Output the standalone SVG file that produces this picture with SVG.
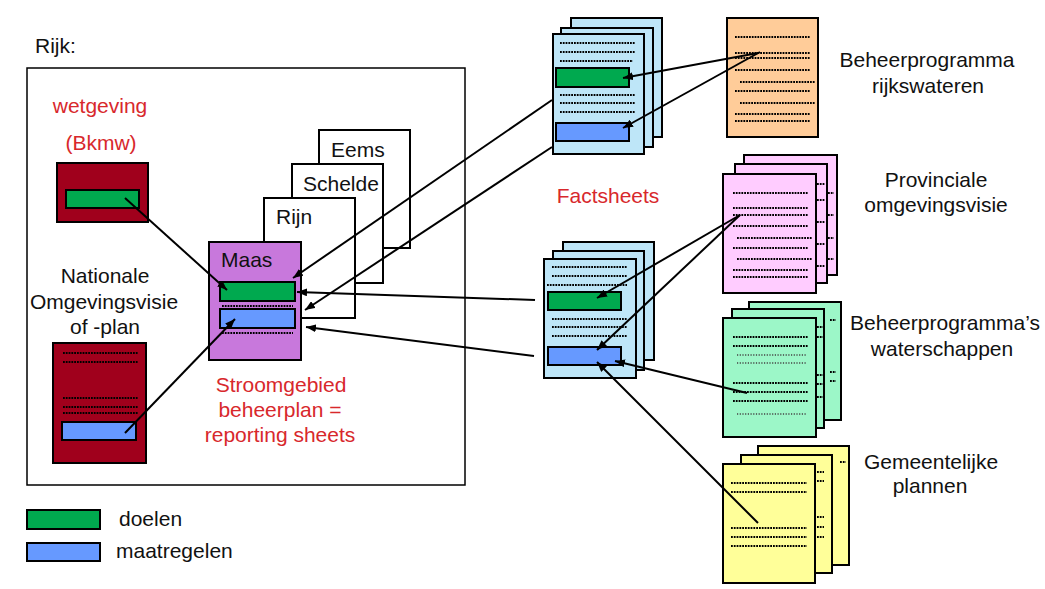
<svg xmlns="http://www.w3.org/2000/svg" width="1045" height="589" viewBox="0 0 1045 589">
<defs>
<style>
.t{font-family:"Liberation Sans",Arial,sans-serif;font-size:21px;fill:#111}
.r{fill:#D8282C}
.m{text-anchor:middle}
.pg{stroke:#000;stroke-width:2}
.dr{fill:#A0001C}
.gr{fill:#00A94F}
.bl{fill:#6699FF}
.pu{fill:#C878DC}
.lb{fill:#BEE6F8}
.or{fill:#FFCC99}
.pk{fill:#FFCCFF}
.mi{fill:#9CF7C8}
.ye{fill:#FFFF99}
.wh{fill:#fff}
.d{stroke:#000;stroke-width:2.2;stroke-dasharray:1.8 1;fill:none}
.dl{stroke:#444;stroke-width:1.4;stroke-dasharray:1.2 1.5;fill:none}
.c{stroke:#000;stroke-width:2;fill:none;marker-end:url(#ah)}
</style>
<marker id="ah" markerUnits="userSpaceOnUse" markerWidth="10" markerHeight="8" refX="10" refY="4" orient="auto">
<path d="M0,0 L10,4 L0,8 z" fill="#000"/>
</marker>
</defs>
<rect width="1045" height="589" fill="#fff"/>

<g id="rijk">
<text class="t" x="35" y="53">Rijk:</text>
<rect x="27" y="68" width="438" height="417" fill="none" stroke="#000" stroke-width="1.5"/>
</g>

<g id="wetgeving">
<text class="t r m" x="100" y="113">wetgeving</text>
<text class="t r m" x="101" y="150">(Bkmw)</text>
<rect class="pg dr" x="57" y="163" width="91" height="59"/>
<rect class="pg gr" x="66" y="190" width="73" height="18"/>
</g>

<g id="nationale">
<text class="t m" x="105" y="283">Nationale</text>
<text class="t m" x="104" y="309">Omgevingsvisie</text>
<text class="t m" x="105" y="334">of -plan</text>
<rect class="pg dr" x="53" y="343" width="93" height="120"/>
<path class="d" d="M63 353H138M63 362H138M63 398H138M63 407H138M63 413H138"/>
<rect class="pg bl" x="62" y="422" width="74" height="18"/>
</g>

<g id="eems">
<rect class="pg wh" x="319" y="130" width="91" height="118"/>
<text class="t" x="331" y="157">Eems</text>
</g>
<g id="schelde">
<rect class="pg wh" x="292" y="164" width="91" height="119"/>
<text class="t" x="303" y="191">Schelde</text>
</g>
<g id="rijn">
<rect class="pg wh" x="264" y="198" width="91" height="120"/>
<text class="t" x="276" y="224">Rijn</text>
</g>
<g id="maas">
<rect class="pg pu" x="209" y="242" width="92" height="118"/>
<text class="t" x="221" y="267">Maas</text>
<rect class="pg gr" x="220" y="282" width="75" height="19"/>
<path class="d" d="M222 306H293M222 333H293"/>
<rect class="pg bl" x="220" y="309" width="75" height="19"/>
</g>
<g id="stroomgebied">
<text class="t r m" x="281" y="392">Stroomgebied</text>
<text class="t r m" x="280" y="417">beheerplan =</text>
<text class="t r m" x="280" y="442">reporting sheets</text>
</g>

<g id="factsheets-top">
<rect class="pg lb" x="571" y="18" width="91" height="119"/>
<rect class="pg lb" x="561" y="28" width="92" height="119"/>
<rect class="pg lb" x="553" y="34" width="91" height="120"/>
<path class="d" d="M560 43H635M560 52H635M560 61H633M560 95H635M560 103H635M560 112H635"/>
<rect class="pg gr" x="556" y="68" width="73" height="19"/>
<rect class="pg bl" x="556" y="123" width="73" height="18"/>
</g>
<text class="t r m" x="608" y="203">Factsheets</text>
<g id="factsheets-bottom">
<rect class="pg lb" x="563" y="242" width="91" height="118"/>
<rect class="pg lb" x="553" y="251" width="91" height="119"/>
<rect class="pg lb" x="544" y="259" width="92" height="119"/>
<path class="d" d="M552 267H627M552 276H627M547 285H627M552 319H627M552 327H627M552 336H627"/>
<rect class="pg gr" x="548" y="292" width="73" height="18"/>
<rect class="pg bl" x="548" y="347" width="73" height="18"/>
</g>

<g id="rijkswateren">
<rect class="pg or" x="727" y="18" width="91" height="119"/>
<path class="d" d="M735 37H810M735 53H810M735 58H810M735 70H810M740 82H815M735 91H810M740 103H815M735 114H810M735 121H810"/>
<text class="t m" x="927" y="67">Beheerprogramma</text>
<text class="t m" x="928" y="93">rijkswateren</text>
</g>

<g id="provinciale">
<rect class="pg pk" x="744" y="155" width="93" height="120"/>
<path class="d" d="M828 193H834M828 215H834M828 238H834M828 259H834"/>
<rect class="pg pk" x="735" y="164" width="92" height="119"/>
<path class="d" d="M817 184H825M817 200H825M817 222H825M817 244H825M817 266H825"/>
<rect class="pg pk" x="723" y="174" width="93" height="119"/>
<path class="d" d="M733 193H808M733 208H808M733 215H808M733 226H808M737 238H812M733 248H808M737 259H812M733 270H808M733 277H808"/>
<text class="t m" x="936" y="187">Provinciale</text>
<text class="t m" x="936" y="212">omgevingsvisie</text>
</g>

<g id="waterschappen">
<rect class="pg mi" x="749" y="302" width="92" height="118"/>
<path class="d" d="M830 320H836M830 372H836M830 381H836"/>
<rect class="pg mi" x="732" y="309" width="92" height="119"/>
<path class="d" d="M817 327H825M817 337H825M817 375H825M817 384H825M817 397H825"/>
<rect class="pg mi" x="723" y="318" width="93" height="119"/>
<path class="d" d="M733 337H808M733 346H808M733 383H808M733 392H808M733 401H808"/>
<path class="dl" d="M737 355H806M737 363H806M737 414H806"/>
<text class="t m" x="945" y="330">Beheerprogramma’s</text>
<text class="t m" x="942" y="356">waterschappen</text>
</g>

<g id="gemeentelijke">
<rect class="pg ye" x="758" y="446" width="91" height="119"/>
<path class="d" d="M840 462H846"/>
<rect class="pg ye" x="741" y="455" width="91" height="118"/>
<path class="d" d="M817 472H824M817 481H824M817 517H824M817 527H824M817 537H824"/>
<rect class="pg ye" x="723" y="464" width="92" height="119"/>
<path class="d" d="M731 483H807M731 492H807M731 528H807M731 537H807M731 546H807"/>
<text class="t m" x="931" y="469">Gemeentelijke</text>
<text class="t m" x="930" y="493">plannen</text>
</g>

<g id="legend">
<rect class="pg gr" x="27" y="510" width="73" height="19"/>
<text class="t" x="119" y="526">doelen</text>
<rect class="pg bl" x="27" y="543" width="73" height="18"/>
<text class="t" x="116" y="558">maatregelen</text>
</g>

<g id="connectors">
<line class="c" x1="125" y1="198" x2="227" y2="290"/>
<line class="c" x1="125" y1="433" x2="235" y2="319"/>
<line class="c" x1="552" y1="100" x2="293" y2="278"/>
<line class="c" x1="552" y1="147" x2="305" y2="310"/>
<line class="c" x1="535" y1="300" x2="297" y2="292"/>
<line class="c" x1="534" y1="356" x2="306" y2="327"/>
<line class="c" x1="758" y1="53" x2="623" y2="78"/>
<line class="c" x1="760" y1="52" x2="623" y2="128"/>
<line class="c" x1="740" y1="215" x2="597" y2="298"/>
<line class="c" x1="740" y1="215" x2="597" y2="350"/>
<line class="c" x1="747" y1="393" x2="615" y2="361"/>
<line class="c" x1="758" y1="523" x2="597" y2="362"/>
</g>
</svg>
